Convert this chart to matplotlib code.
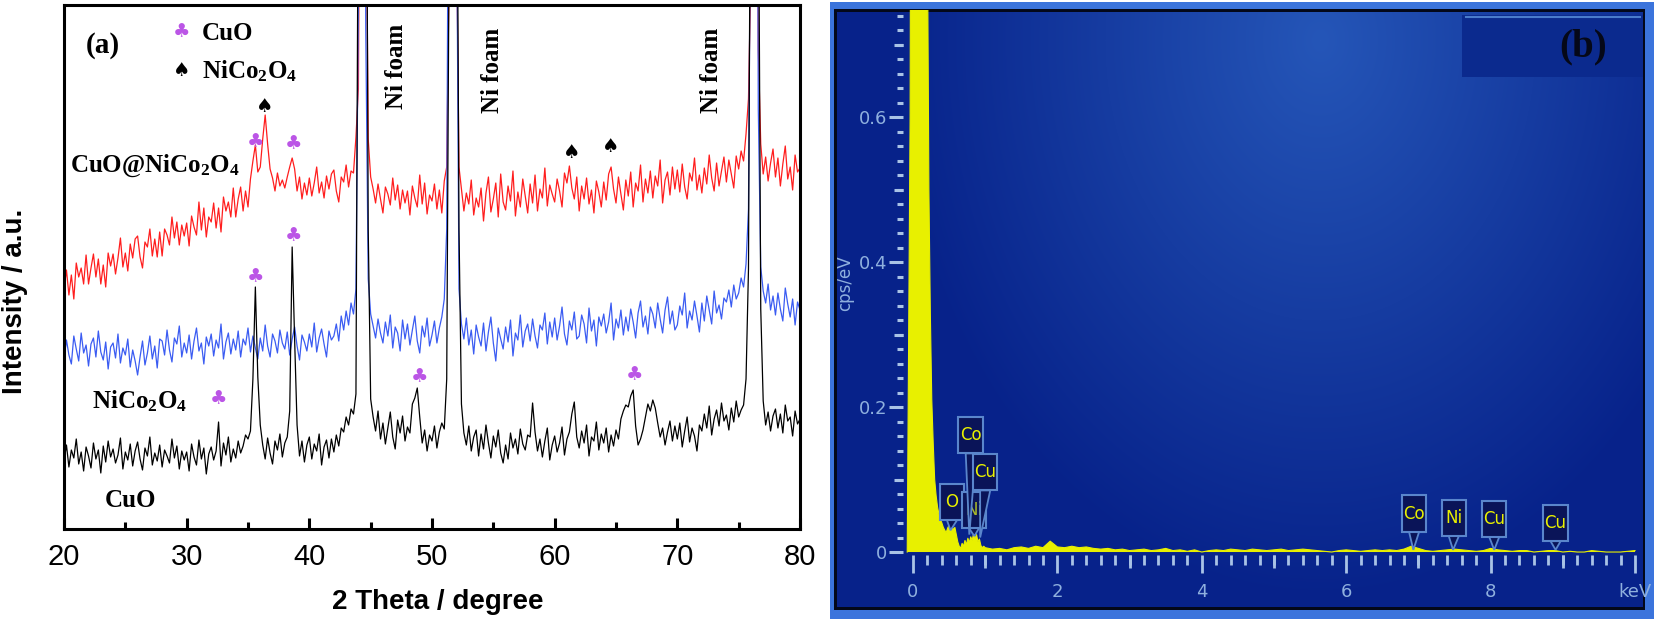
import numpy as np
import matplotlib
matplotlib.use("Agg")
import matplotlib.pyplot as plt
from matplotlib import font_manager
from matplotlib.colors import to_rgb
from matplotlib.patches import Rectangle, Polygon, FancyBboxPatch
from matplotlib.ticker import MultipleLocator

two_theta = np.round(np.arange(20.0, 80.0001, 0.2), 1)

# intensity in a.u. (axis shows 0 - 524), Ni foam reflections run off the top
cuo_nico2o4 = [
    240, 259, 234, 254, 230, 266, 252, 261, 245, 274,
    245, 261, 275, 252, 270, 245, 264, 242, 276, 263,
    275, 255, 271, 291, 262, 276, 258, 285, 271, 290,
    293, 272, 261, 287, 282, 300, 273, 290, 272, 297,
    273, 300, 294, 284, 312, 291, 307, 284, 304, 293,
    306, 283, 313, 302, 294, 327, 299, 321, 292, 312,
    307, 326, 301, 321, 297, 332, 318, 327, 312, 341,
    312, 330, 342, 318, 338, 322, 350, 368, 384, 357,
    362, 390, 414, 385, 360, 351, 338, 356, 343, 349,
    341, 352, 362, 371, 360, 338, 352, 330, 346, 334,
    351, 333, 346, 362, 336, 347, 331, 353, 340, 355,
    359, 338, 327, 352, 347, 364, 342, 358, 356, 392,
    440, 900, 1400, 700, 390, 352, 340, 326, 345, 330,
    316, 342, 335, 324, 351, 329, 344, 320, 339, 326,
    338, 314, 343, 331, 322, 354, 325, 346, 315, 334,
    328, 345, 320, 339, 316, 348, 362, 560, 1400, 1300,
    600, 362, 340, 318, 336, 325, 349, 314, 331, 322,
    341, 308, 336, 352, 317, 330, 346, 312, 355, 327,
    319, 343, 328, 358, 313, 337, 322, 350, 333, 316,
    345, 326, 354, 318, 340, 331, 361, 323, 344, 335,
    327, 350, 338, 322, 356, 346, 363, 341, 330, 352,
    318, 343, 330, 351, 325, 339, 316, 348, 337, 322,
    347, 329, 355, 362, 340, 326, 352, 335, 319, 349,
    333, 357, 322, 346, 338, 364, 327, 350, 336, 358,
    331, 353, 343, 369, 326, 349, 357, 334, 362, 340,
    359, 337, 365, 342, 330, 356, 348, 371, 339, 354,
    336, 361, 345, 374, 351, 338, 366, 343, 358, 372,
    347, 369, 355, 341, 373, 360, 378, 368, 395, 430,
    560, 1400, 1300, 480, 385, 355, 372, 348, 366, 380,
    352, 371, 343, 365, 383, 350, 362, 339, 374, 357,
    361,
]

nico2o4 = [
    170, 189, 174, 165, 193, 180, 168, 196, 176, 184,
    163, 185, 191, 172, 198, 177, 169, 187, 160, 182,
    186, 171, 195, 166, 181, 174, 190, 162, 179, 168,
    154, 172, 188, 164, 176, 193, 170, 183, 161, 190,
    188, 174, 199, 179, 167, 191, 185, 203, 172, 186,
    176, 194, 170, 188, 201, 178, 186, 165, 192, 183,
    195, 173, 189, 181, 205, 170, 187, 196, 175, 190,
    179, 198, 172, 190, 184, 201, 177, 193, 181, 170,
    191, 178, 204, 183, 172, 195, 188, 176, 199, 186,
    180, 197, 174, 190, 202, 183, 169, 194, 187, 178,
    195, 182, 206, 177, 191, 200, 185, 172, 198, 189,
    193, 205, 188, 213, 199, 218, 204, 226, 215, 240,
    520, 1500, 1200, 500, 250, 215, 203, 191, 210, 196,
    186, 207, 193, 214, 181, 202, 196, 178, 209, 190,
    205, 184, 199, 213, 188, 176, 203, 192, 211, 183,
    194, 208, 186, 201, 212, 230, 300, 900, 1500, 1200,
    640, 240, 205, 190, 211, 184, 199, 175, 204, 192,
    183, 206, 178, 197, 212, 186, 168, 201, 190, 180,
    202, 187, 209, 173, 196, 189, 214, 182, 198, 205,
    188, 210, 193, 181, 204, 199, 216, 185, 207, 192,
    211, 189, 203, 222, 195, 184, 208, 199, 217, 190,
    193, 214, 205, 186, 221, 198, 209, 183, 212, 203,
    215, 196, 207, 226, 189, 210, 201, 219, 194, 212,
    198, 220, 207, 191, 216, 228, 202, 213, 195, 222,
    215, 201, 226, 210, 196, 219, 232, 205, 218, 199,
    204, 223, 214, 236, 201, 218, 209, 228, 213, 197,
    226, 208, 233, 219, 205, 238, 216, 224, 210, 231,
    227, 239, 222, 244, 230, 236, 251, 242, 265, 320,
    700, 1500, 1200, 420, 262, 238, 226, 245, 219, 233,
    214, 236, 220, 208, 241, 225, 212, 230, 204, 227,
    219,
]

cuo = [
    68, 84, 62, 79, 71, 90, 65, 77, 58, 82,
    73, 61, 86, 70, 79, 56, 83, 67, 88, 72,
    80, 66, 74, 91, 60, 77, 69, 85, 63, 78,
    87, 70, 59, 81, 73, 92, 64, 76, 68, 84,
    62, 79, 73, 66, 90, 71, 83, 60, 78, 69,
    77, 58, 85, 72, 64, 89, 70, 81, 55, 75,
    82, 69, 78, 107, 63, 86, 74, 92, 67, 80,
    71, 88, 76, 83, 94, 90, 98, 150, 242, 152,
    104, 84, 70, 91, 76, 65, 88, 79, 95, 72,
    86, 92, 118, 282, 190, 104, 73, 88, 67, 84,
    92, 70, 85, 78, 95, 64, 82, 89, 71, 90,
    77, 94, 83, 101, 97, 112, 104, 120, 115, 135,
    700, 1500, 1400, 900, 300, 130, 112, 98, 118, 90,
    106, 85, 101, 117, 92, 80, 109, 96, 113, 88,
    102, 96, 125, 131, 141, 112, 86, 99, 78, 94,
    88, 103, 81, 97, 106, 100, 150, 600, 1500, 1400,
    800, 300, 125, 96, 84, 103, 78, 92, 99, 73,
    95, 80, 104, 86, 71, 93, 82, 99, 76, 66,
    84, 70, 96, 81, 90, 75, 100, 85, 79, 94,
    92, 126, 97, 78, 90, 72, 88, 101, 69, 84,
    93, 77, 86, 102, 74, 90, 97, 115, 127, 92,
    81, 98, 86, 104, 73, 92, 88, 107, 79, 95,
    86, 101, 77, 94, 83, 99, 90, 110, 118, 124,
    122, 133, 139, 103, 84, 90, 99, 112, 125, 118,
    129, 121, 106, 92, 101, 84, 97, 108, 88, 103,
    90, 106, 82, 98, 112, 87, 101, 93, 78, 104,
    98, 115, 101, 123, 94, 110, 119, 103, 126, 108,
    114, 99, 121, 107, 128, 112, 119, 124, 150, 260,
    800, 1500, 1400, 700, 220, 128, 104, 117, 98, 113,
    120, 101, 115, 96, 124, 108, 112, 93, 118, 105,
    110,
]

# peak markers (2theta, a.u.)
club_theta = [35.6, 38.7, 32.6, 35.6, 38.7, 49.0, 66.5]
club_height = [387, 385, 130, 252, 293, 152, 154]
spade_theta = [36.4, 61.4, 64.6]
spade_height = [423, 376, 382]

# ---------------- (b) EDS spectrum ----------------
energy_kev = np.concatenate([np.round(np.arange(-0.08, 0.99, 0.02), 2),
                             np.round(np.arange(1.0, 10.01, 0.1), 1)])
cps_per_ev = [
    0.0, 0.30, 0.60, 1.5,
    1.6, 1.7, 1.8, 1.8, 1.7, 1.6, 1.4, 1.3, 1.1, 0.95,
    0.85, 0.5, 0.33, 0.21, 0.15, 0.10, 0.078, 0.062, 0.052, 0.045,
    0.040, 0.034, 0.030, 0.027, 0.033, 0.037, 0.041, 0.035, 0.031, 0.034,
    0.024, 0.014, 0.008, 0.005, 0.012, 0.008, 0.016, 0.010, 0.019, 0.013,
    0.021, 0.016, 0.026, 0.019, 0.024, 0.014, 0.018, 0.009, 0.006, 0.008,
    # 1.0 - 10.0 keV
    0.006, 0.004, 0.005, 0.003, 0.006, 0.007, 0.005, 0.008, 0.006, 0.015,
    0.007, 0.006, 0.008, 0.006, 0.007, 0.005, 0.004, 0.005, 0.003, 0.004,
    0.002, 0.003, 0.004, 0.002, 0.003, 0.005, 0.002, 0.003, 0.001, 0.003,
    0.0, 0.002, 0.003, 0.002, 0.004, 0.003, 0.002, 0.004, 0.003, 0.002,
    0.003, 0.004, 0.002, 0.003, 0.004, 0.003, 0.002, 0.001, 0.0, 0.002,
    0.003, 0.002, 0.001, 0.002, 0.003, 0.002, 0.003, 0.002, 0.004, 0.008,
    0.005, 0.002, 0.001, 0.002, 0.003, 0.004, 0.003, 0.002, 0.001, 0.002,
    0.005, 0.003, 0.002, 0.001, 0.002, 0.002, 0.0, 0.001, 0.002, 0.002,
    0.0, 0.001, 0.0, 0.0, 0.002, 0.001, 0.0, 0.0, 0.0, 0.001,
    0.002,
]

eds_elements = ["O", "Ni", "Co", "Cu", "Co", "Ni", "Cu", "Cu"]
eds_line_kev = [0.52, 0.85, 0.78, 0.93, 6.93, 7.48, 8.05, 8.90]
eds_line_cps = [0.030, 0.022, 0.024, 0.020, 0.003, 0.003, 0.003, 0.003]
# where the label boxes sit (centre, keV / cps/eV)
box_kev = [0.54, 0.845, 0.80, 1.00, 6.94, 7.49, 8.05, 8.90]
box_cps = [0.069, 0.058, 0.161, 0.110, 0.053, 0.047, 0.046, 0.040]

assert len(cuo_nico2o4) == len(nico2o4) == len(cuo) == len(two_theta)
assert len(cps_per_ev) == len(energy_kev)

# ---------------- figure ----------------
names = {f.name for f in font_manager.fontManager.ttflist}
narrow = "Liberation Sans Narrow" if "Liberation Sans Narrow" in names else "DejaVu Sans"
plt.rcParams["font.family"] = ["Liberation Sans", "DejaVu Sans"]
plt.rcParams["mathtext.fontset"] = "custom"
plt.rcParams["mathtext.rm"] = "Liberation Serif:bold"
plt.rcParams["mathtext.it"] = "Liberation Serif:bold"
plt.rcParams["mathtext.bf"] = "Liberation Serif:bold"

W, H = 1654, 621
fig = plt.figure(figsize=(W / 100, H / 100), dpi=100)
fig.patch.set_facecolor("white")

# background layer in pixel coordinates: frame and gradient of panel (b)
bg = fig.add_axes([0, 0, 1, 1], zorder=0)
bg.axis("off")
bg.add_patch(Rectangle((830, 2), W - 830, 617, color="#3b74dc", lw=0, zorder=0.5))
bg.add_patch(Rectangle((834, 9), 811, 601, color="#03081a", lw=0, zorder=0.6))
gx, gy = np.meshgrid(np.arange(837, 1643), np.arange(12, 607))
t = np.clip(np.hypot((gx - 1320) / 430.0, (gy - 40) / 560.0), 0, 1)[..., None]
grad = np.array(to_rgb("#2556b8")) * (1 - t) + np.array(to_rgb("#07228a")) * t
bg.imshow(grad, extent=(837, 1643, 607, 12), aspect="auto", interpolation="bilinear",
          zorder=0.8)
bg.add_patch(Rectangle((1462, 15), 181, 62, color="#0b2a8e", lw=0, zorder=1))
bg.plot([1466, 1640], [16.5, 16.5], color="#4a7ccc", lw=1.5, zorder=1.2)
bg.text(1583, 47, "(b)", family="Liberation Serif", weight="bold", fontsize=28,
        color="#050818", ha="center", va="center", zorder=1.5)
bg.set_xlim(0, W)
bg.set_ylim(H, 0)

# ---- panel (a)
ax = fig.add_axes([64 / W, 1 - 529 / H, 736 / W, 524 / H], zorder=2)
ax.plot(two_theta, cuo_nico2o4, color="#ff1e1e", lw=0.9)
ax.plot(two_theta, nico2o4, color="#3b5cf2", lw=0.9)
ax.plot(two_theta, cuo, color="#000000", lw=0.9)
ax.set_xlim(20, 80)
ax.set_ylim(0, 524)
ax.set_yticks([])
ax.set_xticks(range(20, 81, 10))
ax.xaxis.set_minor_locator(MultipleLocator(5))
ax.tick_params(axis="x", which="both", direction="in", width=2.2, labelsize=21, pad=10)
ax.tick_params(axis="x", which="major", length=8)
ax.tick_params(axis="x", which="minor", length=5)
for s in ax.spines.values():
    s.set_linewidth(2.2)
ax.set_xlabel("2 Theta / degree", fontsize=20, weight="bold")
ax.xaxis.set_label_coords(0.508, -0.139)
ax.set_ylabel("Intensity / a.u.", fontsize=20, weight="bold")
ax.yaxis.set_label_coords(-0.0666, 0.435)
ax.xaxis.label.set_va("center")
ax.yaxis.label.set_va("center")

serif = dict(family="Liberation Serif", weight="bold", fontsize=18)
ax.text(23.2, 476, "(a)", ha="center", va="baseline", family="Liberation Serif",
        weight="bold", fontsize=21)
ax.text(29.62, 497, "\u2663", color="#bb55e6", family="DejaVu Sans", fontsize=14,
        ha="center", va="center")
ax.text(29.62, 459, "\u2660", color="black", family="DejaVu Sans", fontsize=14,
        ha="center", va="center")
ax.text(31.25, 489, "CuO", ha="left", va="baseline", **serif)
ax.text(31.25, 451, r"NiCo$_2$O$_4$", ha="left", va="baseline", **serif)
ax.text(20.49, 357, r"CuO@NiCo$_2$O$_4$", ha="left", va="baseline", **serif)
ax.text(22.28, 121, r"NiCo$_2$O$_4$", ha="left", va="baseline", **serif)
ax.text(23.34, 22, "CuO", ha="left", va="baseline", **serif)
for xt, yt in [(47.14, 463), (54.96, 459), (72.81, 459)]:
    ax.text(xt, yt, "Ni foam", rotation=90, ha="center", va="center", **serif)
for xt, yt in zip(club_theta, club_height):
    ax.text(xt, yt, "\u2663", color="#bb55e6", family="DejaVu Sans", fontsize=14,
            ha="center", va="center")
for xt, yt in zip(spade_theta, spade_height):
    ax.text(xt, yt, "\u2660", color="black", family="DejaVu Sans", fontsize=14,
            ha="center", va="center")

# ---- panel (b)
tick_c = "#a9c3e6"
lab_c = "#8fb0de"
yellow = "#e8f000"
navy = "#0a1458"
edge = "#5a86cc"

bx = fig.add_axes([903 / W, 1 - 555 / H, 737 / W, 545 / H], zorder=2)
bx.set_facecolor("none")
bx.fill_between(energy_kev, 0, cps_per_ev, color=yellow, lw=0)
bx.plot(energy_kev, cps_per_ev, color=yellow, lw=0.8)
bx.set_xlim(-0.1385, 10.069)
bx.set_ylim(-0.0041, 0.7476)
for s in bx.spines.values():
    s.set_visible(False)

bx.set_xticks([0, 2, 4, 6, 8, 10])
bx.set_xticklabels(["0", "2", "4", "6", "8", "keV"])
bx.xaxis.set_minor_locator(MultipleLocator(0.2))
bx.set_yticks([0, 0.2, 0.4, 0.6])
bx.set_yticklabels(["0", "0.2", "0.4", "0.6"])
bx.yaxis.set_minor_locator(MultipleLocator(0.02))
bx.tick_params(axis="both", which="both", direction="out", color=tick_c,
               labelcolor=lab_c, labelsize=13)
bx.tick_params(axis="x", which="major", length=13, width=2, pad=7)
bx.tick_params(axis="x", which="minor", length=7, width=2)
bx.tick_params(axis="y", which="major", length=10, width=2.2, pad=1.5)
bx.tick_params(axis="y", which="minor", length=4.3, width=2.2)
for lab in bx.get_xticklabels() + bx.get_yticklabels():
    lab.set_family(narrow)

# medium-length ticks at odd keV and 0.1 cps/eV steps
secx = bx.secondary_xaxis("bottom")
secx.set_xticks([1, 3, 5, 7, 9])
secx.tick_params(length=9.5, width=2, color=tick_c, labelbottom=False)
secx.spines["bottom"].set_visible(False)
secy = bx.secondary_yaxis("left")
secy.set_yticks([0.1, 0.3, 0.5, 0.7])
secy.tick_params(length=6.5, width=2.2, color=tick_c, labelleft=False)
secy.spines["left"].set_visible(False)

fig.text(845 / W, 1 - 283 / H, "cps/eV", rotation=90, ha="center", va="center",
         color=lab_c, fontsize=12, family=narrow, zorder=3)

# element callouts: box + pointer to the line position
bw, bh, hw = 0.34, 0.050, 0.07
for i, el in enumerate(eds_elements):
    cx, cy = box_kev[i], box_cps[i]
    pointer = Polygon([(cx - hw, cy - bh / 2), (cx + hw, cy - bh / 2),
                       (eds_line_kev[i], eds_line_cps[i])], closed=True,
                      fc=navy, ec=edge, lw=1.3, zorder=5 + i * 0.1)
    bx.add_patch(pointer)
    box = FancyBboxPatch((cx - bw / 2, cy - bh / 2), bw, bh, boxstyle="square,pad=0",
                         fc=navy, ec=edge, lw=1.5, zorder=5.05 + i * 0.1)
    bx.add_patch(box)
    txt_c = "#a8b82a" if i == 1 else yellow
    bx.text(cx, cy, el, ha="center", va="center", color=txt_c, fontsize=12,
            family=narrow, zorder=5.08 + i * 0.1)

fig.savefig("out.png", dpi=100, facecolor="white")
